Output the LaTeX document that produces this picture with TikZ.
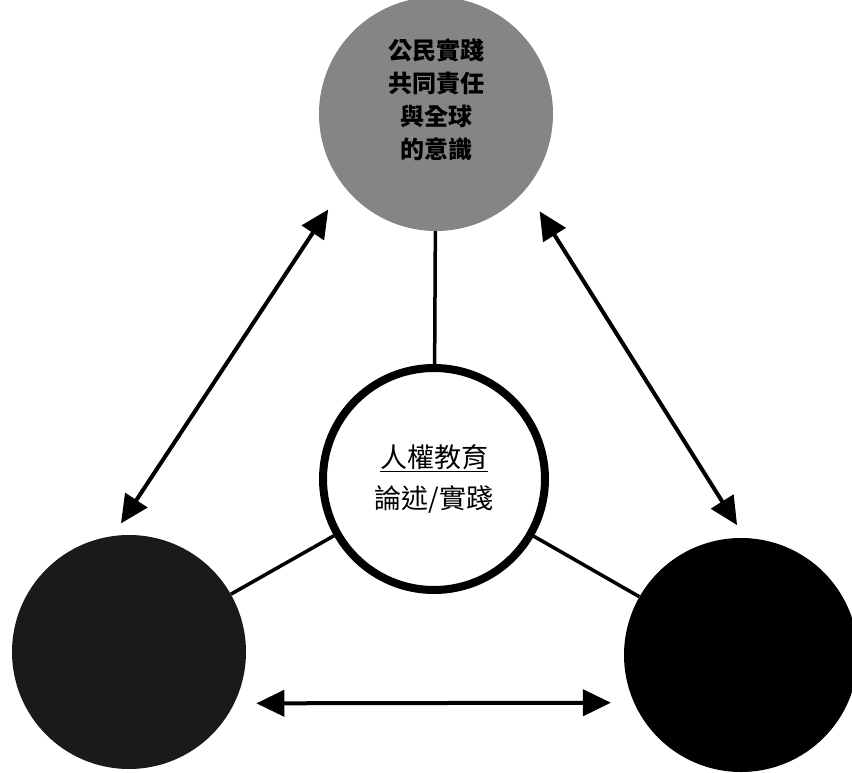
\documentclass[tikz,border=0pt]{standalone}
\usepackage{fontspec}
\usepackage{xcolor}
\usetikzlibrary{arrows.meta}
\newfontfamily\cjk{Noto Sans CJK TC}
\definecolor{topgray}{HTML}{858585}
\definecolor{leftdark}{HTML}{1A1A1A}

\begin{document}
\begin{tikzpicture}[x=1pt, y=-1pt,
    ball/.style={circle, inner sep=0pt, minimum size=234pt},
    core/.style={circle, draw=black, fill=white, line width=8pt,
                 inner sep=0pt, minimum size=222pt, align=center,
                 font=\cjk\fontsize{27}{41}\selectfont},
    spoke/.style={draw=black, line width=3.5pt},
    twoway/.style={draw=black, line width=4pt,
                   {Triangle[length=28pt,width=26pt]}-{Triangle[length=28pt,width=26pt]}},
]
\useasboundingbox (0,0) rectangle (852,773);

% Kreise
\node[ball, fill=topgray, font=\cjk\bfseries\fontsize{24}{33}\selectfont] (top) at (436,114)
    {\raisebox{12pt}[\height][\depth]{\begin{tabular}{@{}c@{}}公民實踐\\共同責任\\與全球\\的意識\end{tabular}}};
\node[ball, fill=leftdark] (left) at (129,652) {};
\node[ball, fill=black] (right) at (741,655) {};

% Mitte
\node[core] (mid) at (434,479) {\underline{人權教育}\\論述/實踐};

% Speichen
\draw[spoke] (top) -- (mid);
\draw[spoke] (mid) -- (left);
\draw[spoke] (mid) -- (right);

% Doppelpfeile
\draw[twoway, shorten <=28pt, shorten >=15pt] (top.218) -- (left.98);
\draw[twoway, shorten <=26pt, shorten >=15pt] (top.320) -- (right.88);
\draw[twoway, shorten <=22pt, shorten >=23pt] (left.334) -- (right.204);

\end{tikzpicture}
\end{document}
